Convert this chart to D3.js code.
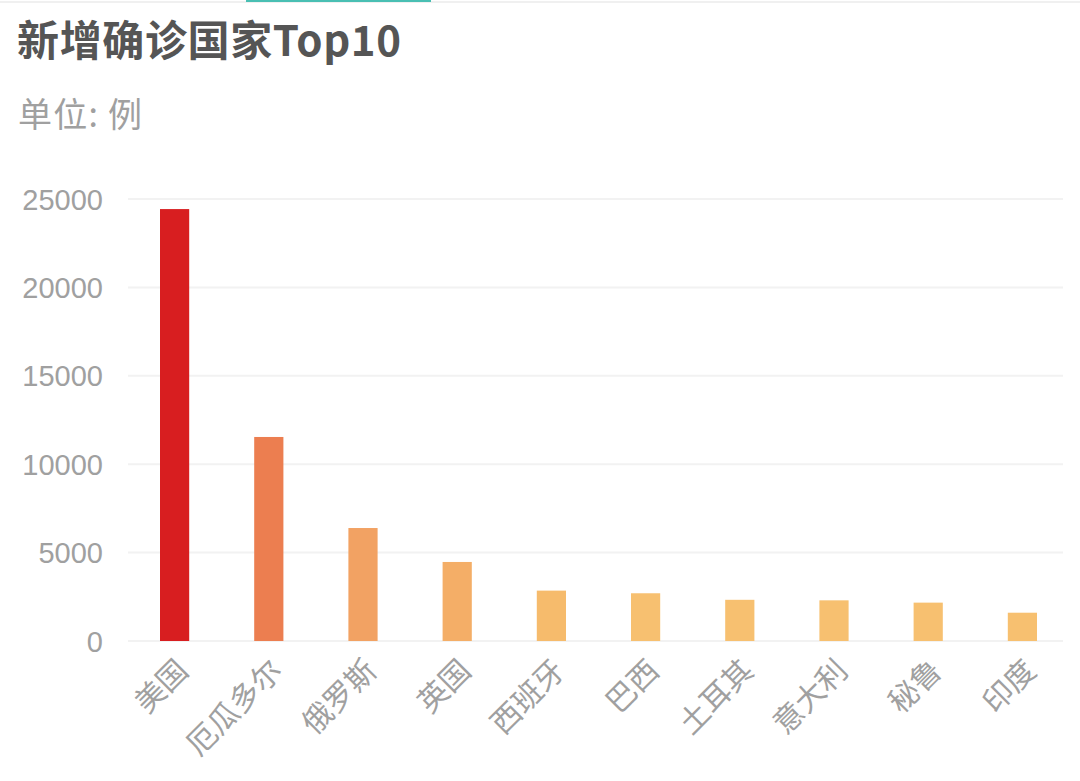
<!DOCTYPE html>
<html><head><meta charset="utf-8">
<script src="https://cdn.jsdelivr.net/npm/d3@7"></script>
<style>html,body{margin:0;padding:0;background:#fff;}svg{display:block;}</style>
</head><body>
<script>
const categories = ["美国","厄瓜多尔","俄罗斯","英国","西班牙","巴西","土耳其","意大利","秘鲁","印度"];
const values = [24430, 11540, 6390, 4470, 2850, 2700, 2330, 2300, 2170, 1600];
const barColors = ["#d81e20","#ec7e50","#f2a263","#f4ae67","#f6bb6c","#f7c070","#f7c070","#f7c070","#f7c070","#f7c070"];
const yTicks = [0, 5000, 10000, 15000, 20000, 25000];
const title = "新增确诊国家Top10";
const subtitle = "单位: 例";

const W = 1080, H = 781;
const svg = d3.select("body").append("svg").attr("width", W).attr("height", H);
const font = "'Noto Sans CJK SC','Noto Sans',sans-serif";
const numFont = "'Liberation Sans',Arial,sans-serif";

// top decoration strip
svg.append("rect").attr("x",0).attr("y",1).attr("width",W).attr("height",2).attr("fill","#f0f0f0");
svg.append("rect").attr("x",246).attr("y",0).attr("width",185).attr("height",2).attr("fill","#49bfb3");

svg.append("text").attr("x",17).attr("y",56).text(title)
  .attr("font-family",font).attr("font-weight","bold").attr("font-size",42).attr("fill","#555")
  .attr("textLength",384).attr("lengthAdjust","spacing");
svg.append("text").attr("x",18).attr("y",127).text(subtitle)
  .attr("font-family",font).attr("font-size",34).attr("fill","#a0a0a0")
  .attr("textLength",124).attr("lengthAdjust","spacing");

const x = d3.scaleBand().domain(categories).range([127.5, 1069.5]).paddingInner(0.69).paddingOuter(0.345);
const y = d3.scaleLinear().domain([0, 25000]).range([641, 199]);

// gridlines
svg.append("g").selectAll("line").data(yTicks).join("line")
  .attr("x1",128).attr("x2",1063)
  .attr("y1",d=>y(d)).attr("y2",d=>y(d))
  .attr("stroke","#f2f2f2").attr("stroke-width",2);

// y axis
const yAxis = d3.axisLeft(y).tickValues(yTicks).tickSize(0).tickPadding(0).tickFormat(d3.format("d"));
const gy = svg.append("g").attr("transform","translate(103,0)").call(yAxis);
gy.select(".domain").remove();
gy.selectAll("text").attr("font-family",numFont).attr("font-size",29).attr("fill","#a0a0a0").attr("dy","0.35em");

// bars
svg.append("g").selectAll("rect").data(values).join("rect")
  .attr("x",(d,i)=>x(categories[i]))
  .attr("width",x.bandwidth())
  .attr("y",d=>y(d))
  .attr("height",d=>y(0)-y(d))
  .attr("fill",(d,i)=>barColors[i]);

// x axis
const xAxis = d3.axisBottom(x).tickSize(0).tickPadding(0);
const gx = svg.append("g").attr("transform","translate(0,641)").call(xAxis);
gx.select(".domain").remove();
gx.selectAll("text")
  .attr("font-family",font).attr("font-size",30).attr("fill","#a0a0a0")
  .attr("text-anchor","end").attr("dy","0.35em")
  .attr("transform","translate(8,24) rotate(-45)");
</script>
</body></html>
